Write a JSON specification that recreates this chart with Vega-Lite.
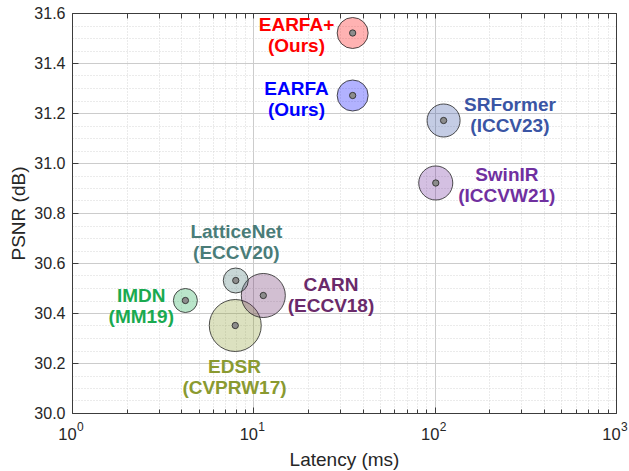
{
  "$schema": "https://vega.github.io/schema/vega-lite/v6.json",
  "width": 544,
  "height": 400,
  "autosize": {"type": "none"},
  "padding": {"left": 72, "top": 13, "right": 13, "bottom": 58},
  "background": "white",
  "config": {
    "view": {"stroke": null},
    "font": "Liberation Sans",
    "axis": {"labelFont": "Liberation Sans", "titleFont": "Liberation Sans", "labelColor": "#262626", "titleColor": "#262626", "domainColor": "#3c3c3c", "tickColor": "#3c3c3c", "titleFontWeight": "normal"}
  },
  "data": {
    "values": [
      {"model": "EARFA+", "name": "EARFA+", "venue": "(Ours)", "latency": 35.3, "psnr": 31.52, "bubble": 9.6, "labelLatency": 17.3, "labelPsnr": 31.51},
      {"model": "EARFA", "name": "EARFA", "venue": "(Ours)", "latency": 35.3, "psnr": 31.27, "bubble": 9.6, "labelLatency": 17.3, "labelPsnr": 31.254},
      {"model": "SRFormer", "name": "SRFormer", "venue": "(ICCV23)", "latency": 112, "psnr": 31.17, "bubble": 10.9, "labelLatency": 260, "labelPsnr": 31.192},
      {"model": "SwinIR", "name": "SwinIR", "venue": "(ICCVW21)", "latency": 101.4, "psnr": 30.92, "bubble": 11.6, "labelLatency": 250, "labelPsnr": 30.91},
      {"model": "EDSR", "name": "EDSR", "venue": "(CVPRW17)", "latency": 7.95, "psnr": 30.35, "bubble": 27.0, "labelLatency": 7.87, "labelPsnr": 30.144},
      {"model": "CARN", "name": "CARN", "venue": "(ECCV18)", "latency": 11.35, "psnr": 30.47, "bubble": 19.4, "labelLatency": 26.8, "labelPsnr": 30.472},
      {"model": "LatticeNet", "name": "LatticeNet", "venue": "(ECCV20)", "latency": 8.0, "psnr": 30.53, "bubble": 6.25, "labelLatency": 8.06, "labelPsnr": 30.682},
      {"model": "IMDN", "name": "IMDN", "venue": "(MM19)", "latency": 4.22, "psnr": 30.45, "bubble": 5.76, "labelLatency": 2.41, "labelPsnr": 30.428}
    ]
  },
  "resolve": {"axis": {"x": "independent", "y": "independent"}},
  "layer": [
    {
      "mark": {"type": "point", "shape": "circle", "filled": true, "fillOpacity": 0.3, "stroke": "#222222", "strokeWidth": 0.8, "strokeOpacity": 1},
      "encoding": {
        "x": {"field": "latency", "type": "quantitative",
          "scale": {"type": "log", "domain": [1, 1000], "nice": false},
          "axis": {"orient": "bottom", "values": [1, 10, 100, 1000], "title": "Latency (ms)", "titleFontSize": 19, "titlePadding": 8,
            "labelFontSize": 16.5, "labelPadding": 19, "labelOffset": -5, "tickSize": -6, "ticks": true,
            "labelExpr": "'10'",
            "grid": true, "gridColor": "#cccccc", "gridWidth": 1, "domain": true, "labelFlush": false, "labelOverlap": false}},
        "y": {"field": "psnr", "type": "quantitative",
          "scale": {"domain": [30, 31.6], "nice": false, "zero": false},
          "axis": {"orient": "left", "values": [30, 30.2, 30.4, 30.6, 30.8, 31, 31.2, 31.4, 31.6], "format": ".1f", "title": "PSNR (dB)", "titleFontSize": 19, "titlePadding": 5,
            "labelFontSize": 16, "labelPadding": 13, "tickSize": -6, "ticks": true,
            "grid": true, "gridColor": "#cccccc", "gridWidth": 1, "domain": true}},
        "size": {"field": "bubble", "type": "quantitative", "scale": {"type": "linear", "domain": [0, 30], "range": [0, 3000], "zero": true}, "legend": null},
        "color": {"field": "model", "type": "nominal",
          "scale": {"domain": ["EARFA+", "EARFA", "SRFormer", "SwinIR", "EDSR", "CARN", "LatticeNet", "IMDN"],
            "range": ["#ff0000", "#0000ff", "#3a55a4", "#7030a0", "#8a9a30", "#6a2a6a", "#4a7c78", "#1aaa50"]},
          "legend": null}
      }
    },
    {
      "mark": {"type": "text", "fontWeight": "bold", "fontSize": 19, "align": "center", "baseline": "middle", "dy": -10.5},
      "encoding": {
        "x": {"field": "labelLatency", "type": "quantitative",
          "axis": {"orient": "bottom", "values": [2, 3, 4, 5, 6, 7, 8, 9, 20, 30, 40, 50, 60, 70, 80, 90, 200, 300, 400, 500, 600, 700, 800, 900],
            "labels": false, "title": null, "domain": false, "ticks": true, "tickSize": -4,
            "grid": true, "gridColor": "#d6d6d6", "gridDash": [1, 2], "gridWidth": 1}},
        "y": {"field": "labelPsnr", "type": "quantitative",
          "axis": {"orient": "left", "values": [30.05, 30.1, 30.15, 30.25, 30.3, 30.35, 30.45, 30.5, 30.55, 30.65, 30.7, 30.75, 30.85, 30.9, 30.95, 31.05, 31.1, 31.15, 31.25, 31.3, 31.35, 31.45, 31.5, 31.55],
            "labels": false, "title": null, "domain": false, "ticks": false,
            "grid": true, "gridColor": "#d6d6d6", "gridDash": [1, 2], "gridWidth": 1}},
        "text": {"field": "name"},
        "color": {"field": "model", "type": "nominal", "legend": null}
      }
    },
    {
      "mark": {"type": "text", "fontWeight": "bold", "fontSize": 19, "align": "center", "baseline": "middle", "dy": 10.5},
      "encoding": {
        "x": {"field": "labelLatency", "type": "quantitative",
          "axis": {"orient": "bottom", "values": [1, 10, 100, 1000], "labelExpr": "'' + round(log(datum.value) / LN10)",
            "labelFontSize": 12, "labelPadding": 8, "labelAlign": "left", "labelOffset": 4.5, "labelFlush": false, "labelOverlap": false,
            "title": null, "domain": false, "ticks": false, "grid": false}},
        "y": {"field": "labelPsnr", "type": "quantitative", "axis": null},
        "text": {"field": "venue"},
        "color": {"field": "model", "type": "nominal", "legend": null}
      }
    },
    {
      "mark": {"type": "point", "shape": "circle", "filled": true, "size": 40, "fill": "#8c8c8c", "fillOpacity": 1, "stroke": "#222222", "strokeWidth": 0.8, "strokeOpacity": 1},
      "encoding": {
        "x": {"field": "latency", "type": "quantitative",
          "axis": {"orient": "top", "values": [1, 2, 3, 4, 5, 6, 7, 8, 9, 10, 20, 30, 40, 50, 60, 70, 80, 90, 100, 200, 300, 400, 500, 600, 700, 800, 900, 1000],
            "labels": false, "title": null, "domain": true, "ticks": true, "tickSize": -5, "grid": false}},
        "y": {"field": "psnr", "type": "quantitative",
          "axis": {"orient": "right", "values": [30, 30.2, 30.4, 30.6, 30.8, 31, 31.2, 31.4, 31.6],
            "labels": false, "title": null, "domain": true, "ticks": true, "tickSize": -6, "grid": false}}
      }
    }
  ]
}
